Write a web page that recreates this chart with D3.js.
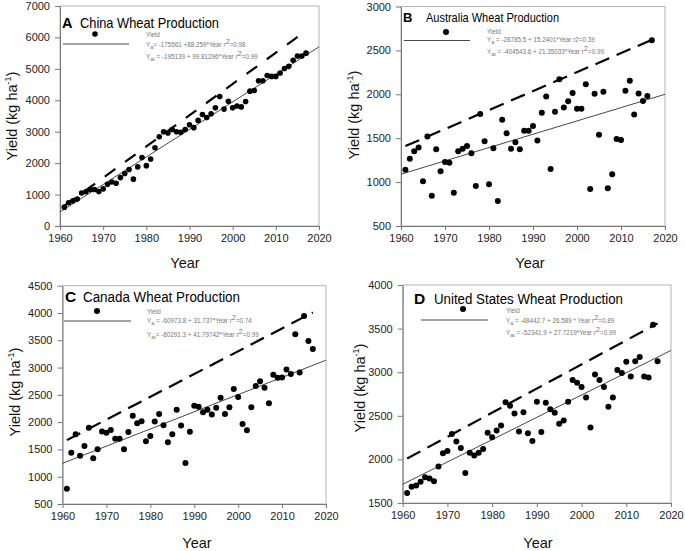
<!DOCTYPE html>
<html>
<head>
<meta charset="utf-8">
<script src="https://cdn.jsdelivr.net/npm/d3@7"></script>
<style>
  html, body { margin: 0; padding: 0; background: #fff; }
  svg { display: block; font-family: "Liberation Sans", Arial, sans-serif; }
</style>
</head>
<body>
<svg id="chart" width="685" height="551"></svg>
<script>
// ---------------- DATA ----------------
const years = [1961,1962,1963,1964,1965,1966,1967,1968,1969,1970,
  1971,1972,1973,1974,1975,1976,1977,1978,1979,1980,
  1981,1982,1983,1984,1985,1986,1987,1988,1989,1990,
  1991,1992,1993,1994,1995,1996,1997,1998,1999,2000,
  2001,2002,2003,2004,2005,2006,2007,2008,2009,2010,
  2011,2012,2013,2014,2015,2016,2017];

const chinaYield = [600,740,800,860,1050,1090,1160,1160,1100,1180,
  1330,1400,1360,1540,1670,1800,1490,1880,2180,1920,
  2130,2490,2840,3000,2960,3070,3000,2980,3070,3220,
  3130,3360,3550,3450,3570,3760,4120,3720,3970,3760,
  3820,3790,3960,4290,4310,4620,4620,4790,4760,4760,
  4870,5010,5080,5270,5410,5410,5500];

const australiaYield = [1140,1265,1350,1395,1010,1520,845,1375,1125,1230,
  1220,880,1350,1380,1410,1330,955,1775,1465,975,
  1385,785,1710,1555,1380,1455,1375,1585,1585,1640,
  1475,1790,1975,1150,1800,2170,1850,1920,2015,1835,
  1835,2115,920,2005,1540,2030,930,1090,1490,1480,
  2040,2155,1770,2010,1925,1980,2615];

const canadaYield = [780,1440,1780,1385,1565,1895,1340,1505,1830,1805,
  1855,1695,1695,1505,1820,2115,1980,2015,1650,1745,
  2010,2150,1945,1630,1780,2225,1940,1250,1825,2300,
  2280,2180,2225,2140,2265,2445,2150,2275,2605,2460,
  1965,1850,2275,2660,2750,2630,2345,2870,2815,2820,
  2965,2880,3610,2910,3945,3485,3340];

const usYield = [1615,1685,1700,1745,1795,1780,1750,1920,2070,2095,
  2290,2205,2130,1845,2075,2045,2075,2120,2305,2255,
  2330,2390,2655,2615,2525,2320,2540,2300,2210,2660,
  2315,2650,2575,2535,2410,2445,2660,2910,2880,2830,
  2710,2365,2975,2910,2830,2605,2710,3025,2990,3120,
  2950,3125,3175,2950,2940,3545,3125];

// trend lines (end points)
const chinaYa = { x: [1960, 2020], y: [446, 5700] };
const chinaYat = { x: [1961, 2017], y: [640, 6210] };
const australiaYa = { x: [1960, 2020], y: [1090, 2000] };
const australiaYat = { x: [1961, 2017], y: [1410, 2620] };
const canadaYa = { x: [1960, 2020], y: [1245, 3135] };
const canadaYat = { x: [1961, 2017], y: [1670, 4010] };
const usYa = { x: [1960, 2020], y: [1715, 3250] };
const usYat = { x: [1961, 2017], y: [2010, 3560] };

// axes ticks
const xTicks = [1960, 1970, 1980, 1990, 2000, 2010, 2020];
const chinaYTicks = [0, 1000, 2000, 3000, 4000, 5000, 6000, 7000];
const australiaYTicks = [500, 1000, 1500, 2000, 2500, 3000];
const canadaYTicks = [500, 1000, 1500, 2000, 2500, 3000, 3500, 4000, 4500];
const usYTicks = [1500, 2000, 2500, 3000, 3500, 4000];

// titles & legend text
const panelLetters = ["A", "B", "C", "D"];
const panelTitles = ["China Wheat Production", "Australia Wheat Production",
  "Canada Wheat Production", "United States Wheat Production"];
// each equation: [subscript, text before superscript, superscript, tail]
const eqA = [
  ["a", "= -175561 +88.259*Year r", "2", "=0.98"],
  ["at", " = -195139 + 99.81296*Year r", "2", "=0.99"]];
const eqB = [
  ["a", " = -28785.5 + 15.2401*Year r2=0.39", "", ""],
  ["at", " = -404543.6 + 21.35033*Year r", "2", "=0.99"]];
const eqC = [
  ["a", " = -60973.8 + 31.737*Year r", "2", "=0.74"],
  ["at", "= -80291.3 + 41.79742*Year r", "2", "=0.99"]];
const eqD = [
  ["a", " = -48442.7 + 26.589 * Year r", "2", "=0.89"],
  ["at", " = -52341.9 + 27.7219*Year r", "2", "=0.99"]];

// ---------------- LAYOUT ----------------
const panels = [
  { yield: chinaYield, ya: chinaYa, yat: chinaYat, yTicks: chinaYTicks, yDomain: [0, 7000],
    eq: eqA, letter: panelLetters[0], title: panelTitles[0],
    L: 60, R: 319, T: 6, B: 226,
    title_: { lx: 62, tx: 80, tw: 139, y: 28, fs: 14.5 },
    leg: { dx: 95, dy: 34, l1: 63, l2: 129, ly: 44, tx: 146, y1: 37, y2: 47, y3: 59 },
    xl: { x: 185, y: 268 }, yl: { x: 17, y: 116 }, r: 2.8, dash: "13,12" },
  { yield: australiaYield, ya: australiaYa, yat: australiaYat, yTicks: australiaYTicks, yDomain: [500, 3000],
    eq: eqB, letter: panelLetters[1], title: panelTitles[1],
    L: 401, R: 665, T: 6.5, B: 226,
    title_: { lx: 403, tx: 426, tw: 133, y: 22, fs: 13 },
    leg: { dx: 446, dy: 32, l1: 404, l2: 470, ly: 40.5, tx: 487, y1: 34, y2: 42, y3: 54 },
    xl: { x: 530, y: 268 }, yl: { x: 359, y: 115 }, r: 3, dash: "15,8" },
  { yield: canadaYield, ya: canadaYa, yat: canadaYat, yTicks: canadaYTicks, yDomain: [500, 4500],
    eq: eqC, letter: panelLetters[2], title: panelTitles[2],
    L: 62.5, R: 326, T: 285.7, B: 504,
    title_: { lx: 65, tx: 83, tw: 157, y: 302, fs: 15.5 },
    leg: { dx: 97, dy: 311, l1: 64, l2: 131, ly: 321, tx: 147, y1: 313.5, y2: 323, y3: 337 },
    xl: { x: 197, y: 548 }, yl: { x: 20, y: 392 }, r: 3, dash: "15,8" },
  { yield: usYield, ya: usYa, yat: usYat, yTicks: usYTicks, yDomain: [1500, 4000],
    eq: eqD, letter: panelLetters[3], title: panelTitles[3],
    L: 402.7, R: 671, T: 285, B: 503,
    title_: { lx: 414, tx: 434, tw: 189, y: 303.5, fs: 15.5 },
    leg: { dx: 463, dy: 309, l1: 421, l2: 488, ly: 320, tx: 506, y1: 313, y2: 323, y3: 334.5 },
    xl: { x: 538, y: 548 }, yl: { x: 365, y: 388 }, r: 3, dash: "15,8" }
];

const svg = d3.select("#chart");

panels.forEach(p => {
  const g = svg.append("g");
  const x = d3.scaleLinear().domain([1960, 2020]).range([p.L, p.R]);
  const y = d3.scaleLinear().domain(p.yDomain).range([p.B, p.T]);

  // frame
  g.append("rect").attr("x", p.L).attr("y", p.T)
    .attr("width", p.R - p.L).attr("height", p.B - p.T)
    .attr("fill", "none").attr("stroke", "#b4b4b4").attr("stroke-width", 1);

  // axes
  const xa = g.append("g").attr("transform", `translate(0,${p.B})`)
    .call(d3.axisBottom(x).tickValues(xTicks).tickFormat(d3.format("d"))
      .tickSize(4).tickSizeOuter(0).tickPadding(4));
  const ya = g.append("g").attr("transform", `translate(${p.L},0)`)
    .call(d3.axisLeft(y).tickValues(p.yTicks).tickFormat(d3.format("d"))
      .tickSize(5).tickSizeOuter(0).tickPadding(5));
  [xa, ya].forEach(a => {
    a.select(".domain").attr("stroke", "#777");
    a.selectAll(".tick line").attr("stroke", "#777");
    a.selectAll(".tick text").attr("fill", "#222").style("font-size", "11px")
      .style("font-family", "'Liberation Sans', Arial, sans-serif");
  });

  // trend lines
  const line = d3.line().x(d => x(d[0])).y(d => y(d[1]));
  g.append("path").datum(d3.zip(p.ya.x, p.ya.y)).attr("d", line)
    .attr("fill", "none").attr("stroke", "#333").attr("stroke-width", 0.9);
  g.append("path").datum(d3.zip(p.yat.x, p.yat.y)).attr("d", line)
    .attr("fill", "none").attr("stroke", "#000").attr("stroke-width", 2.2)
    .attr("stroke-dasharray", p.dash);

  // points
  g.selectAll("circle.pt").data(d3.zip(years, p.yield)).join("circle")
    .attr("class", "pt").attr("cx", d => x(d[0])).attr("cy", d => y(d[1]))
    .attr("r", p.r).attr("fill", "#000");

  // title
  g.append("text").attr("x", p.title_.lx).attr("y", p.title_.y)
    .style("font-size", p.title_.fs + "px").style("font-weight", "bold").text(p.letter);
  g.append("text").attr("x", p.title_.tx).attr("y", p.title_.y)
    .attr("textLength", p.title_.tw).attr("lengthAdjust", "spacingAndGlyphs")
    .style("font-size", p.title_.fs + "px").text(p.title);

  // legend
  const lg = p.leg;
  g.append("circle").attr("cx", lg.dx).attr("cy", lg.dy).attr("r", p.r).attr("fill", "#000");
  g.append("line").attr("x1", lg.l1).attr("x2", lg.l2).attr("y1", lg.ly).attr("y2", lg.ly)
    .attr("stroke", "#333").attr("stroke-width", 0.9);
  const lfs = 6.3;
  g.append("text").attr("x", lg.tx).attr("y", lg.y1).attr("fill", "#777")
    .style("font-size", lfs + "px").text("Yield");
  [lg.y2, lg.y3].forEach((yy, i) => {
    const e = p.eq[i];
    const t = g.append("text").attr("x", lg.tx).attr("y", yy).attr("fill", "#777")
      .style("font-size", lfs + "px");
    t.append("tspan").text("Y");
    t.append("tspan").attr("dy", 2).style("font-size", "5.5px").text(e[0]);
    t.append("tspan").attr("dy", -2).text(e[1]);
    if (e[2]) {
      t.append("tspan").attr("dy", -3).style("font-size", "7.5px").text(e[2]);
      t.append("tspan").attr("dy", 3).text(e[3]);
    }
  });

  // axis labels
  g.append("text").attr("x", p.xl.x).attr("y", p.xl.y).attr("text-anchor", "middle")
    .style("font-size", "14.5px").attr("fill", "#111").text("Year");
  const yl = g.append("text")
    .attr("transform", `translate(${p.yl.x},${p.yl.y}) rotate(-90)`)
    .attr("text-anchor", "middle").style("font-size", "14.5px").attr("fill", "#111");
  yl.append("tspan").text("Yield (kg ha");
  yl.append("tspan").attr("dy", -6).style("font-size", "9px").text("-1");
  yl.append("tspan").attr("dy", 6).text(")");
});
</script>
</body>
</html>
